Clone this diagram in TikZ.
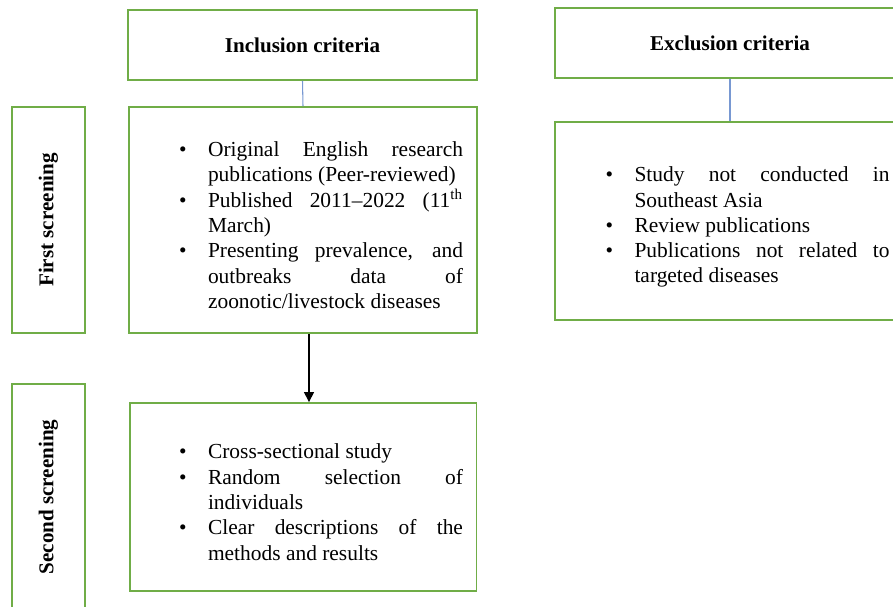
\documentclass[tikz,border=0pt]{standalone}
\usepackage{fontspec}
\setmainfont{Liberation Serif}
\usepackage{xcolor}
\usetikzlibrary{positioning}
\usetikzlibrary{arrows.meta}

\definecolor{boxgreen}{RGB}{112,173,71}
\definecolor{linkblue}{RGB}{120,152,210}

% bullet list used inside the criteria boxes
\newenvironment{critlist}{%
  \begin{list}{\textbullet}{%
    \setlength\leftmargin{0.58cm}%
    \setlength\labelsep{0.43cm}%
    \setlength\labelwidth{0.15cm}%
    \setlength\topsep{0pt}%
    \setlength\partopsep{0pt}%
    \setlength\itemsep{0pt}%
    \setlength\parsep{0pt}}}%
  {\end{list}}

\begin{document}
\begin{tikzpicture}[x=0.02cm,y=-0.02cm,
  box/.style={draw=boxgreen,line width=1.1pt,inner sep=0pt},
  head/.style={font=\fontsize{12}{14.2}\selectfont\bfseries},
  side/.style={box,rotate=90,font=\fontsize{12}{14.2}\selectfont\bfseries,
    minimum width=4.52cm,minimum height=1.46cm},
  items/.style={inner sep=0pt,text width=5.68cm,align=justify,
    font=\fontsize{12.2}{14.4}\selectfont},
  link/.style={draw=linkblue,line width=0.6pt},
  flow/.style={draw=black,line width=0.9pt,-{Triangle[length=0.2cm,width=0.2cm]}}]

  \useasboundingbox (0,0) rectangle (893,607);

  % headings
  \node[box,head,minimum width=6.98cm,minimum height=1.4cm] (incl) at (302.5,45) {Inclusion criteria};
  \node[box,head,minimum width=7cm,minimum height=1.4cm] (excl) at (730,43) {Exclusion criteria};

  % screening stages
  \node[side] (first) at (48.5,220) {First screening};
  \node[side] (second) at (48.5,497) {Second screening};

  % criteria boxes
  \node[box,minimum width=6.96cm,minimum height=4.52cm] (inclbody) at (303,220) {};
  \node[box,minimum width=7cm,minimum height=3.96cm] (exclbody) at (730,221) {};
  \node[box,minimum width=6.94cm,minimum height=3.76cm] (secbody) at (303,497) {};

  \node[items] (incltext) at (321,220) {%
    \begin{critlist}
      \item Original English research\linebreak publications (Peer-reviewed)
      \item Published 2011--2022 (11\textsuperscript{th}\linebreak March)
      \item Presenting prevalence, and\linebreak outbreaks data of\linebreak zoonotic/livestock diseases
    \end{critlist}};

  \node[items] (excltext) at (747.5,222) {%
    \begin{critlist}
      \item Study not conducted in\linebreak Southeast Asia
      \item Review publications
      \item Publications not related to\linebreak targeted diseases
    \end{critlist}};

  \node[items] (sectext) at (321,497) {%
    \begin{critlist}
      \item Cross-sectional study
      \item Random selection of\linebreak individuals
      \item Clear descriptions of the\linebreak methods and results
    \end{critlist}};

  % connectors
  \draw[link] (incl.south) -- (inclbody.north);
  \draw[link] (excl.south) -- (exclbody.north);
  \draw[flow] ([xshift=0.12cm]inclbody.south) -- ([xshift=0.12cm]secbody.north);

\end{tikzpicture}
\end{document}
